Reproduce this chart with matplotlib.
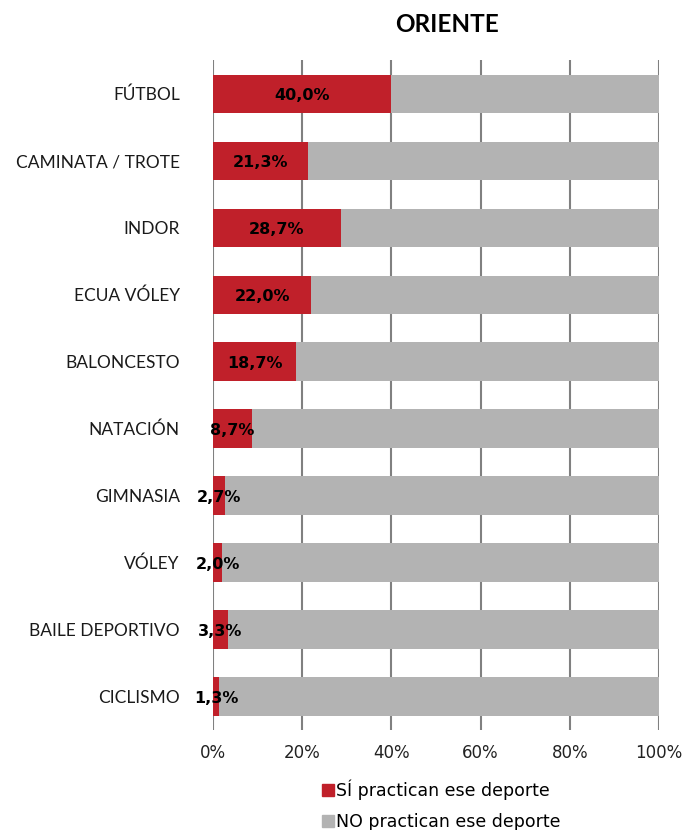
import matplotlib
matplotlib.use("Agg")
import matplotlib.pyplot as plt
from matplotlib.patches import Patch

# datos (porcentajes)
deportes = ["FÚTBOL", "CAMINATA / TROTE", "INDOR", "ECUA VÓLEY", "BALONCESTO",
            "NATACIÓN", "GIMNASIA", "VÓLEY", "BAILE DEPORTIVO", "CICLISMO"]
si_practican = [40.0, 21.3, 28.7, 22.0, 18.7, 8.7, 2.7, 2.0, 3.3, 1.3]
no_practican = [60.0, 78.7, 71.3, 78.0, 81.3, 91.3, 97.3, 98.0, 96.7, 98.7]
ticks_x = [0, 20, 40, 60, 80, 100]
etiquetas_x = ["0%", "20%", "40%", "60%", "80%", "100%"]
titulo = "ORIENTE"
leyenda = ["SÍ practican ese deporte", "NO practican ese deporte"]

ROJO = "#C0202A"
GRIS = "#B3B3B3"

fig = plt.figure(figsize=(6.86, 8.30), dpi=100)
ax = fig.add_axes([0.3105, 0.1205, 0.650, 0.807])

pos = list(range(len(deportes)))
ax.barh(pos, si_practican, height=0.57, color=ROJO, zorder=3)
ax.barh(pos, no_practican, left=si_practican, height=0.57, color=GRIS, zorder=3)

# etiquetas de valor, centradas en la barra roja
for p, v in zip(pos, si_practican):
    txt = f"{v:.1f}".replace(".", ",") + "%"
    ax.text(v / 2, p + 0.03, txt, ha="center", va="center", fontsize=11.5,
            fontweight="bold", color="black", zorder=4, family="DejaVu Sans")

ax.set_xlim(0, 100)
ax.set_ylim(len(deportes) - 0.5, -0.5)
ax.set_xticks(ticks_x)
ax.set_xticklabels(etiquetas_x, fontsize=12, family="DejaVu Sans", color="#222222")
ax.set_yticks(pos)
ax.set_yticklabels(deportes, fontsize=12.5, family="Lato", color="#1a1a1a")
ax.tick_params(axis="y", length=0, pad=24)
ax.tick_params(axis="x", length=0, pad=10)
for s in ax.spines.values():
    s.set_visible(False)
ax.grid(axis="x", color="#808080", linewidth=1.5, zorder=1)
ax.set_axisbelow(True)

fig.text(0.6516, 0.971, titulo, ha="center", va="center", fontsize=17.5,
         fontweight="bold", family="Lato")

handles = [Patch(color=ROJO), Patch(color=GRIS)]
fig.legend(handles, leyenda, loc="upper left", bbox_to_anchor=(0.469, 0.061),
           frameon=False, fontsize=12.5, handlelength=0.7, handleheight=0.7,
           handletextpad=0.1, labelspacing=0.75, borderpad=0, borderaxespad=0)

fig.savefig("out.png", dpi=100)
